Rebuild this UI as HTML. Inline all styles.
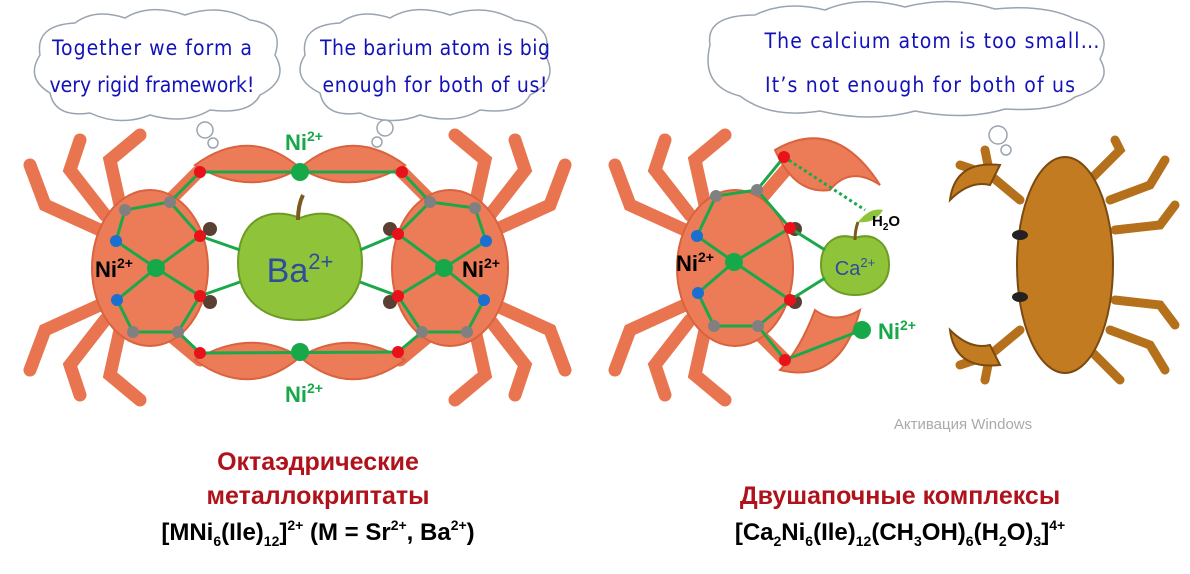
<!DOCTYPE html>
<html><head><meta charset="utf-8"><style>
body{margin:0;background:#fff;width:1190px;height:574px;overflow:hidden}
svg{display:block}
.cl{font-family:"Comic Sans MS","DejaVu Sans Condensed","Liberation Sans Narrow",sans-serif;fill:#1212b8;font-size:21px}
.b{font-family:"Liberation Sans",sans-serif;font-weight:bold}
</style></head><body>
<svg width="1190" height="574" viewBox="0 0 1190 574">
<g fill="#fff" stroke="#9aa4b0" stroke-width="1.5">
<path d="M40,55 q-5,-30 35,-32 q20,-15 50,-5 q25,-15 60,-3 q35,-12 65,5 q35,5 25,35 q15,25 -15,40 q-10,20 -50,15 q-25,15 -60,5 q-30,12 -60,-2 q-35,5 -40,-20 q-25,-15 -10,-38z"/>
<path d="M305,55 q-5,-30 35,-32 q20,-15 50,-5 q25,-15 60,-3 q35,-12 65,5 q40,5 30,35 q15,25 -15,40 q-10,20 -50,15 q-25,15 -60,5 q-30,12 -60,-2 q-35,5 -40,-20 q-30,-15 -15,-38z"/>
<path d="M710,45 q-5,-30 45,-30 q30,-15 70,-5 q35,-15 80,-3 q45,-12 90,2 q50,-5 80,10 q40,10 25,40 q15,25 -25,38 q-20,15 -70,12 q-40,12 -90,2 q-45,12 -95,0 q-50,8 -80,-15 q-40,-10 -30,-51z"/>
<circle cx="205" cy="130" r="8"/><circle cx="213" cy="143" r="5"/>
<circle cx="385" cy="128" r="8"/><circle cx="377" cy="142" r="5"/>
<circle cx="998" cy="135" r="9"/><circle cx="1006" cy="150" r="5"/>
</g>
<text class="cl" x="152" y="55" text-anchor="middle" textLength="200">Together we form a</text>
<text class="cl" x="152" y="92" text-anchor="middle" textLength="205">very rigid framework!</text>
<text class="cl" x="435" y="55" text-anchor="middle" textLength="230">The barium atom is big</text>
<text class="cl" x="435" y="92" text-anchor="middle" textLength="225">enough for both of us!</text>
<text class="cl" x="932" y="48" text-anchor="middle" textLength="335">The calcium atom is too small…</text>
<text class="cl" x="920" y="92" text-anchor="middle" textLength="310">It’s not enough for both of us</text>

<g stroke="#e8754f" stroke-width="13" fill="none" stroke-linecap="round">
<path d="M100,230 L45,205 L30,165"/><path d="M105,215 L70,170 L80,140"/><path d="M120,205 L110,160 L140,135"/>
<path d="M100,305 L45,330 L30,370"/><path d="M105,320 L70,365 L80,395"/><path d="M120,330 L110,375 L140,400"/>
<path d="M495,230 L550,205 L565,165"/><path d="M490,215 L525,170 L515,140"/><path d="M475,205 L485,160 L455,135"/>
<path d="M495,305 L550,330 L565,370"/><path d="M490,320 L525,365 L515,395"/><path d="M475,330 L485,375 L455,400"/>
<path d="M170,200 L200,170"/><path d="M430,200 L400,170"/><path d="M170,335 L200,360"/><path d="M430,335 L400,360"/>
</g>
<g fill="#ec7c57" stroke="#d9633f" stroke-width="2">
<ellipse cx="150" cy="268" rx="58" ry="78"/><ellipse cx="450" cy="268" rx="58" ry="78"/>
<path d="M195,165 q55,-40 105,3 q-50,30 -105,-3z"/><path d="M405,165 q-55,-40 -105,3 q50,30 105,-3z"/>
<path d="M195,360 q55,40 105,-3 q-50,-30 -105,3z"/><path d="M405,360 q-55,40 -105,-3 q50,-30 105,3z"/>
</g>
<g fill="#5a4033"><circle cx="210" cy="229" r="7"/><circle cx="210" cy="302" r="7"/><circle cx="390" cy="229" r="7"/><circle cx="390" cy="302" r="7"/></g>
<path d="M300,218 c30,-12 62,0 62,45 c0,40 -30,57 -62,57 c-32,0 -62,-17 -62,-57 c0,-45 32,-57 62,-45z" fill="#8fc43a" stroke="#6d9c22" stroke-width="2"/>
<path d="M298,220 q0,-15 5,-25" stroke="#7a5a1e" stroke-width="4" fill="none"/>
<text x="300" y="282" font-family="Liberation Sans,sans-serif" font-size="34" fill="#2e4d9a" text-anchor="middle">Ba<tspan font-size="22" dy="-13">2+</tspan></text>
<g stroke="#1aa84a" stroke-width="3" fill="none">
<path d="M200,172 L402,172 M200,353 L398,352"/>
<path d="M200,172 L170,202 L125,210 L116,241 L156,268 L117,300 L133,332 L178,332 L200,353"/>
<path d="M170,202 L200,236 L156,268 L200,296 L178,332"/>
<path d="M200,236 L240,250 M200,296 L240,282"/>
<path d="M402,172 L430,202 L475,208 L486,241 L444,268 L484,300 L467,332 L422,332 L398,352"/>
<path d="M430,202 L398,234 L444,268 L398,296 L422,332"/>
<path d="M398,234 L360,250 M398,296 L360,282"/>
</g>
<g fill="#e8121b"><circle cx="200" cy="172" r="6"/><circle cx="200" cy="236" r="6"/><circle cx="200" cy="296" r="6"/><circle cx="200" cy="353" r="6"/><circle cx="402" cy="172" r="6"/><circle cx="398" cy="234" r="6"/><circle cx="398" cy="296" r="6"/><circle cx="398" cy="352" r="6"/></g>
<g fill="#808080"><circle cx="125" cy="210" r="6"/><circle cx="170" cy="202" r="6"/><circle cx="133" cy="332" r="6"/><circle cx="178" cy="332" r="6"/><circle cx="430" cy="202" r="6"/><circle cx="475" cy="208" r="6"/><circle cx="422" cy="332" r="6"/><circle cx="467" cy="332" r="6"/></g>
<g fill="#1a6fd0"><circle cx="116" cy="241" r="6"/><circle cx="117" cy="300" r="6"/><circle cx="486" cy="241" r="6"/><circle cx="484" cy="300" r="6"/></g>
<g fill="#17a84a"><circle cx="156" cy="268" r="9"/><circle cx="444" cy="268" r="9"/><circle cx="300" cy="172" r="9"/><circle cx="300" cy="352" r="9"/></g>
<g class="b" font-size="22">
<text x="95" y="277" fill="#000">Ni<tspan font-size="14" dy="-9">2+</tspan></text>
<text x="462" y="277" fill="#000">Ni<tspan font-size="14" dy="-9">2+</tspan></text>
<text x="285" y="150" fill="#17a84a">Ni<tspan font-size="14" dy="-9">2+</tspan></text>
<text x="285" y="402" fill="#17a84a">Ni<tspan font-size="14" dy="-9">2+</tspan></text>
</g>

<g stroke="#e8754f" stroke-width="13" fill="none" stroke-linecap="round">
<path d="M685,230 L630,205 L615,165"/><path d="M690,215 L655,170 L665,140"/><path d="M705,205 L695,160 L725,135"/>
<path d="M685,305 L630,330 L615,370"/><path d="M690,320 L655,365 L665,395"/><path d="M705,330 L695,375 L725,400"/>
<path d="M760,200 L790,165"/><path d="M760,335 L790,365"/>
</g>
<g fill="#ec7c57" stroke="#d9633f" stroke-width="2">
<ellipse cx="735" cy="268" rx="58" ry="78"/>
<path d="M775,150 q60,-35 105,35 q-30,-20 -50,5 q-35,5 -55,-40z"/>
<path d="M780,370 q60,15 80,-60 q-25,15 -45,0 q-15,40 -35,60z"/>
</g>
<g fill="#5a4033"><circle cx="795" cy="229" r="7"/><circle cx="795" cy="302" r="7"/></g>
<path d="M855,238 c18,-6 34,4 34,27 c0,20 -16,30 -34,30 c-18,0 -34,-10 -34,-30 c0,-23 16,-33 34,-27z" fill="#8fc43a" stroke="#6d9c22" stroke-width="2"/>
<path d="M855,240 q0,-10 3,-18" stroke="#7a5a1e" stroke-width="3" fill="none"/>
<path d="M858,222 q12,-15 25,-12 q-8,14 -25,12z" fill="#8fc43a"/>
<text x="855" y="275" font-family="Liberation Sans,sans-serif" font-size="20" fill="#2e4d9a" text-anchor="middle">Ca<tspan font-size="13" dy="-8">2+</tspan></text>
<text x="872" y="226" class="b" font-size="15" fill="#000">H<tspan font-size="10" dy="4">2</tspan><tspan dy="-4">O</tspan></text>
<g stroke="#1aa84a" stroke-width="3" fill="none">
<path d="M784,157 L757,190 L716,196 L697,236 L734,262 L698,293 L714,326 L758,326 L785,360 L862,330"/>
<path d="M757,190 L790,228 L734,262 L790,300 L758,326"/>
<path d="M790,228 L825,250 M790,300 L825,278"/>
<path d="M784,157 L865,210" stroke-dasharray="3,3"/>
</g>
<g fill="#e8121b"><circle cx="784" cy="157" r="6"/><circle cx="790" cy="228" r="6"/><circle cx="790" cy="300" r="6"/><circle cx="785" cy="360" r="6"/></g>
<g fill="#808080"><circle cx="757" cy="190" r="6"/><circle cx="716" cy="196" r="6"/><circle cx="714" cy="326" r="6"/><circle cx="758" cy="326" r="6"/></g>
<g fill="#1a6fd0"><circle cx="697" cy="236" r="6"/><circle cx="698" cy="293" r="6"/></g>
<g fill="#17a84a"><circle cx="734" cy="262" r="9"/><circle cx="862" cy="330" r="9"/></g>
<text x="676" y="271" class="b" font-size="22" fill="#000">Ni<tspan font-size="14" dy="-9">2+</tspan></text>
<text x="878" y="339" class="b" font-size="22" fill="#17a84a">Ni<tspan font-size="14" dy="-9">2+</tspan></text>

<g stroke="#b5701c" stroke-width="9" fill="none" stroke-linecap="round">
<path d="M1110,200 L1150,185 L1165,160"/><path d="M1115,230 L1160,225 L1175,205"/><path d="M1115,300 L1160,305 L1175,325"/><path d="M1110,330 L1150,345 L1165,370"/>
<path d="M1090,180 L1120,150 L1115,140"/><path d="M1090,350 L1120,380"/>
<path d="M1020,200 L990,175 L985,150 M990,175 L960,165"/>
<path d="M1020,330 L990,355 L985,380 M990,355 L960,365"/>
</g>
<ellipse cx="1065" cy="265" rx="48" ry="108" fill="#c27b21" stroke="#7a4a10" stroke-width="2"/>
<path d="M1000,165 q-45,-5 -50,35 q20,-20 40,-15z M1000,365 q-45,5 -50,-35 q20,20 40,15z" fill="#c27b21" stroke="#7a4a10" stroke-width="2"/>
<g fill="#222"><ellipse cx="1020" cy="235" rx="8" ry="5"/><ellipse cx="1020" cy="297" rx="8" ry="5"/></g>

<g class="b" text-anchor="middle">
<text x="318" y="470" font-size="25" fill="#b0121b">Октаэдрические</text>
<text x="318" y="504" font-size="25" fill="#b0121b">металлокриптаты</text>
<text x="318" y="540" font-size="24" fill="#000">[MNi<tspan font-size="14" dy="6">6</tspan><tspan dy="-6">(Ile)</tspan><tspan font-size="14" dy="6">12</tspan><tspan dy="-6">]</tspan><tspan font-size="14" dy="-10">2+</tspan><tspan dy="10"> (M = Sr</tspan><tspan font-size="14" dy="-10">2+</tspan><tspan dy="10">, Ba</tspan><tspan font-size="14" dy="-10">2+</tspan><tspan dy="10">)</tspan></text>
<text x="900" y="504" font-size="25" fill="#b0121b">Двушапочные комплексы</text>
<text x="900" y="540" font-size="24" fill="#000">[Ca<tspan font-size="14" dy="6">2</tspan><tspan dy="-6">Ni</tspan><tspan font-size="14" dy="6">6</tspan><tspan dy="-6">(Ile)</tspan><tspan font-size="14" dy="6">12</tspan><tspan dy="-6">(CH</tspan><tspan font-size="14" dy="6">3</tspan><tspan dy="-6">OH)</tspan><tspan font-size="14" dy="6">6</tspan><tspan dy="-6">(H</tspan><tspan font-size="14" dy="6">2</tspan><tspan dy="-6">O)</tspan><tspan font-size="14" dy="6">3</tspan><tspan dy="-6">]</tspan><tspan font-size="14" dy="-10">4+</tspan></text>
</g>
<text x="963" y="429" font-family="Liberation Sans,sans-serif" font-size="15" fill="#aaa" text-anchor="middle">Активация Windows</text>
</svg>
</body></html>
